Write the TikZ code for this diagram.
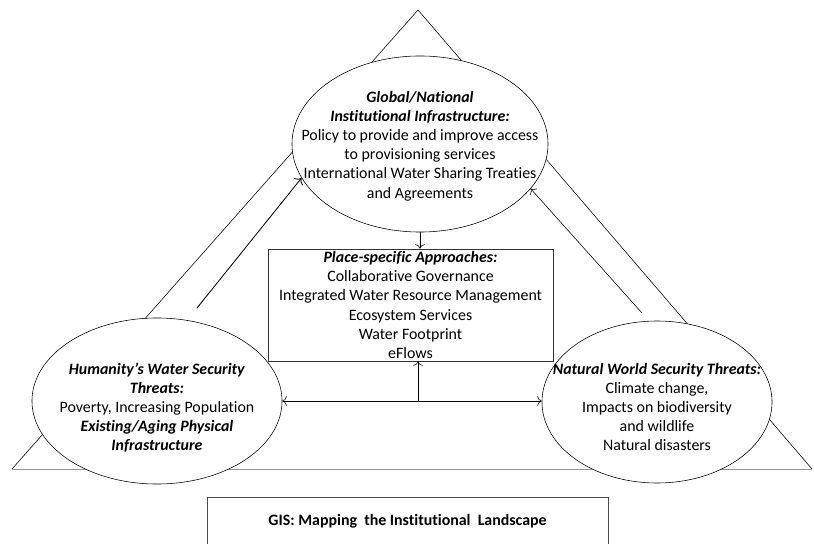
\documentclass[tikz,border=0pt]{standalone}
\usepackage{fontspec}
\setmainfont{Carlito}[Ligatures=CommonOff]
\usetikzlibrary{shapes.geometric,arrows.meta}
\tikzset{
  >={To[scale=1.3]},
  oval/.style={draw, ellipse, fill=white, inner sep=0pt},
  ovaltext/.style={align=center, font=\fontsize{11.3}{13.6}\selectfont},
  plainbox/.style={draw=black!80, fill=white, align=center, inner sep=0pt, font=\fontsize{11.3}{13.6}\selectfont}
}
\newcommand{\hd}[1]{\textbf{\textit{#1}}}

\begin{document}
\begin{tikzpicture}[x=0.025cm,y=-0.025cm]
		\useasboundingbox (0,0) rectangle (814,544);
		% the triangle behind everything
		\draw (12,469) -- (418,10) -- (812,469);
		\draw[black!40] (12,469) -- (812,469);
		% three corners
		\node[oval, minimum width=6.4cm, minimum height=4.4cm, label={[ovaltext,yshift=-0.05cm]center:{\hd{Global/National}\\ \hd{Institutional Infrastructure:}\\ Policy to provide and improve access\\ to provisioning services\\ International Water Sharing Treaties\\ and Agreements}}] (global) at (420,144) {};
		\node[oval, minimum width=6.25cm, minimum height=4.15cm, label={[ovaltext,yshift=-0.17cm]center:{\hd{Humanity’s Water Security}\\ \hd{Threats:}\\ Poverty, Increasing Population\\ \hd{Existing/Aging Physical}\\ \hd{Infrastructure}}}] (human) at (157,401) {};
		\node[oval, minimum width=5.75cm, minimum height=4.05cm, label={[ovaltext,yshift=-0.12cm]center:{\hd{Natural World Security Threats:}\\ Climate change,\\ Impacts on biodiversity\\ and wildlife\\ Natural disasters}}] (natural) at (657,402) {};
		% middle box
		\node[plainbox, minimum width=7.125cm, minimum height=2.8cm] (place) at (410.5,305) {\hd{Place-specific Approaches:}\\ Collaborative Governance\\ Integrated Water Resource Management\\ Ecosystem Services\\ Water Footprint\\ eFlows};
		\node[plainbox, draw=black!70, minimum width=10.025cm, minimum height=1.2cm, font=\fontsize{11.3}{13.6}\selectfont\bfseries] (gis) at (407.5,521) {GIS: Mapping~ the Institutional~ Landscape};
		% arrows
		\draw[->] (global.south) -- (global.south |- place.north);
		\coordinate (hub) at (418,401);
		\draw[<->] (human.east) -- (human.east -| natural.west);
		\draw[->] (hub) -- (hub |- place.south);
		\coordinate (hstart) at (197,308);
		\draw[->,semithick] (hstart) -- (global.196);
		\coordinate (nstart) at (642,313);
		\draw[->] (nstart) -- (global.-22);
\end{tikzpicture}
\end{document}
